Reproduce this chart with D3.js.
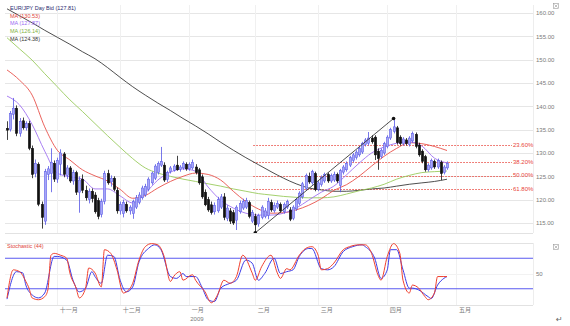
<!DOCTYPE html>
<html><head><meta charset="utf-8">
<script src="https://cdn.jsdelivr.net/npm/d3@7"></script>
<style>body{margin:0;background:#fff}svg{display:block;font-family:"Liberation Sans",Arial,sans-serif}</style>
</head><body><svg id="c" width="570" height="326"></svg>
<script>
// ---------- data ----------
const firstDay = "2008-10-10";
const lastCalendarDay = "2009-05-01";
const holidays = ["2008-12-25", "2009-01-01"];
const monthKeys = ["2008-11", "2008-12", "2009-01", "2009-02", "2009-03", "2009-04", "2009-05"];
const monthLabels = ["十一月", "十二月", "一月", "二月", "三月", "四月", "五月"];
const yearLabel = "2009";
const yearMonthKey = "2009-01";

const open = [135.3,135.0,138.3,139.6,134.2,136.9,135.4,136.3,131.0,125.6,127.6,119.0,115.4,125.4,125.6,127.8,124.4,127.6,129.8,125.2,
126.8,124.0,125.8,121.6,124.4,122.0,120.0,121.8,121.0,119.8,116.8,119.6,125.6,123.8,124.6,122.0,117.6,117.0,119.0,117.6,
117.0,118.4,119.4,120.4,121.0,122.2,123.6,124.6,125.8,127.4,127.4,124.3,126.0,126.3,127.4,126.5,126.8,127.6,126.6,126.8,
127.0,126.4,124.9,121.6,120.0,118.9,117.4,117.6,118.4,120.6,116.0,117.6,117.2,115.6,117.4,118.2,118.4,119.4,115.4,116.4,
114.8,116.2,116.4,116.6,119.4,117.6,118.4,119.0,117.4,118.4,117.8,116.0,118.0,119.2,120.6,122.4,125.0,123.6,125.6,122.2,
123.2,124.0,125.4,124.0,124.2,125.4,123.0,125.9,126.4,127.4,128.4,129.0,129.6,130.2,131.8,132.1,133.2,133.4,130.4,129.2,
130.0,131.4,133.2,134.6,135.4,133.4,132.0,132.8,131.8,132.6,134.0,131.7,130.4,129.2,126.4,126.8,128.2,127.0,128.0,125.8,126.8];
const high = [136.8,139.0,141.8,140.2,137.5,137.6,136.8,136.9,131.6,128.6,128.0,119.6,126.6,127.2,131.0,128.4,129.0,130.8,130.2,127.4,
127.2,126.4,126.2,125.0,125.4,123.0,122.4,122.4,121.6,120.4,120.2,126.2,126.4,125.2,125.0,122.6,119.6,120.0,119.6,118.8,
120.0,121.0,121.6,123.0,123.4,124.8,126.0,127.6,128.2,131.3,128.0,126.2,127.2,127.6,129.4,127.4,128.2,128.0,128.0,128.6,
127.6,126.8,125.4,122.2,120.6,119.6,119.4,120.6,121.2,121.4,118.8,118.2,117.8,118.8,119.8,120.2,120.4,119.8,117.8,117.0,
117.0,118.8,118.2,120.4,120.0,119.4,119.8,119.4,119.4,120.0,118.4,118.8,120.4,121.8,123.8,125.6,125.8,126.4,126.0,124.0,
125.2,125.8,125.8,125.6,126.0,125.8,126.6,127.4,128.2,129.4,130.0,130.6,131.4,132.4,133.2,134.5,133.8,133.8,131.0,131.0,
132.4,133.8,135.4,137.4,135.8,133.8,133.4,133.2,133.6,134.6,134.4,132.2,130.8,129.6,127.8,128.8,128.6,128.8,128.4,127.4,128.2];
const low = [132.8,134.6,137.2,133.6,133.5,135.0,134.8,130.6,124.6,124.8,118.6,113.8,114.6,124.2,121.6,123.8,123.6,125.2,124.8,124.4,
123.6,123.2,121.0,117.2,121.4,119.8,119.2,119.4,117.0,115.8,116.2,119.0,123.2,122.8,121.8,117.0,116.8,116.2,117.2,116.8,
115.9,118.0,119.0,120.0,120.6,121.8,123.2,124.2,125.4,127.0,123.8,123.8,125.6,126.0,126.2,126.0,126.4,126.2,126.2,126.4,
125.4,123.2,120.2,118.6,117.4,116.8,116.8,117.2,118.0,115.6,115.4,114.8,114.6,113.5,117.0,117.8,118.0,116.0,115.0,112.9,
114.2,115.8,116.0,115.8,117.4,117.2,118.0,117.2,117.0,118.0,115.4,115.6,117.6,118.8,120.2,122.0,123.4,123.2,121.8,121.8,
122.8,123.6,123.6,123.6,123.8,123.6,121.6,125.4,126.0,127.0,128.0,128.6,129.2,129.8,131.4,131.6,132.0,128.5,126.4,128.8,
129.6,131.0,132.8,134.2,131.8,131.6,131.6,131.6,131.4,132.2,131.0,129.2,127.8,126.0,126.0,126.4,126.6,126.6,124.2,125.4,126.4];
const close = [134.9,138.5,139.6,134.2,136.8,135.4,136.3,131.0,125.4,127.8,119.0,116.2,126.0,126.6,128.0,124.4,128.4,130.0,125.4,126.8,
124.0,125.8,121.6,124.2,122.0,120.4,121.8,120.2,117.4,116.4,119.6,125.6,123.6,124.6,122.2,117.6,119.0,119.4,117.6,118.4,
119.6,120.4,121.0,122.5,122.8,124.4,125.7,127.2,127.8,128.2,124.2,125.8,126.8,127.2,126.4,127.0,127.8,126.6,127.6,128.0,
125.8,123.6,120.6,118.9,117.8,117.2,118.8,120.0,120.6,116.2,118.2,115.4,115.0,118.4,119.2,119.6,119.8,116.4,117.2,114.6,
116.6,118.4,117.6,119.6,117.8,118.8,119.2,117.6,119.0,119.6,115.8,118.4,120.0,121.4,123.4,125.2,123.8,126.0,122.2,123.6,
124.8,125.4,124.0,125.2,125.4,124.0,126.2,127.0,127.8,129.0,129.6,130.2,131.0,132.1,132.8,133.2,132.4,129.6,128.8,130.6,
132.0,133.4,135.0,135.6,132.2,132.0,133.0,132.0,133.2,134.2,131.4,129.6,128.2,126.4,127.4,128.4,127.0,128.4,125.6,127.0,127.81];

// moving averages read every 4th bar
const maIdx = [0,4,8,12,16,20,24,28,32,36,40,44,48,52,56,60,64,68,72,76,80,84,88,92,96,100,104,108,112,116,120,124,128,132,136,140];
const maRed = [147.8,145.6,142.4,135.6,130.6,128.5,126.4,125.1,124.0,122.2,120.3,120.9,122.5,123.9,125.0,125.7,125.4,124.2,121.8,119.6,118.0,117.1,117.2,117.8,118.8,120.2,122.0,123.2,125.0,127.2,129.3,131.0,132.2,132.0,131.4,130.53];
const maPurple = [142.2,140.3,136.1,130.4,125.7,124.9,124.4,122.3,122.3,120.8,119.3,121.4,124.2,125.9,126.6,126.1,122.7,119.9,118.2,117.1,116.7,116.7,117.1,118.2,119.9,121.6,122.9,125.3,127.8,130.0,131.3,132.1,132.4,131.5,128.9,127.87];
const maGreen = [154.7,152.3,149.9,147.0,144.2,141.4,138.9,136.3,133.7,131.2,128.8,126.8,125.7,125.0,124.4,123.9,123.4,122.9,122.3,121.8,121.3,121.0,120.7,120.5,120.4,120.4,120.6,121.2,121.9,122.5,123.3,124.4,125.2,125.8,126.0,126.14];
const maBlack = [160.9,159.4,157.9,156.3,154.8,153.3,151.7,150.2,148.3,146.2,144.2,142.4,140.7,139.1,137.4,135.8,134.1,132.3,130.6,129.0,127.5,126.0,124.6,123.4,122.5,122.1,121.8,121.8,122.0,122.3,122.5,122.9,123.3,123.6,123.9,124.38];

// stochastic (bar index, value)
const stochK = [[0,10],[2,56],[4,53],[6,37],[7,26],[8,10],[10,7],[12,12],[13,23],[14,80],[15,83],[17,80],[19,75],[20,51],[22,26],[23,10],[25,26],[26,59],[28,51],[30,28],[31,89],[33,83],[35,56],[37,18],[38,20],[40,34],[42,72],[44,94],[46,99],[48,97],[50,78],[52,37],[53,45],[55,53],[56,39],[59,48],[60,39],[63,20],[65,2],[67,15],[69,39],[71,34],[73,45],[75,80],[78,51],[79,39],[81,61],[84,80],[86,51],[87,42],[89,58],[90,56],[93,80],[95,91],[97,94],[99,80],[100,56],[102,58],[104,67],[107,89],[109,94],[112,97],[114,97],[116,83],[118,48],[119,39],[121,78],[123,99],[125,83],[126,39],[128,18],[129,31],[131,26],[133,12],[134,7],[136,18],[137,45],[139,45],[140,45]];
const stochD = [[0,8],[3,53],[5,51],[6,31],[8,15],[10,10],[12,18],[15,78],[16,78],[19,72],[21,39],[23,20],[25,26],[27,53],[28,45],[30,34],[32,80],[34,78],[36,39],[38,20],[40,28],[42,69],[45,91],[47,97],[49,89],[52,45],[54,42],[56,50],[57,45],[60,45],[62,28],[64,7],[66,4],[68,26],[71,34],[73,39],[76,72],[78,67],[80,39],[82,50],[85,75],[87,50],[89,53],[91,56],[93,78],[96,91],[97,91],[100,58],[102,56],[104,61],[107,86],[110,94],[113,97],[114,94],[117,75],[119,42],[121,56],[122,89],[124,89],[126,56],[128,26],[129,26],[131,23],[134,12],[135,9],[137,31],[139,42],[140,45]];

const priceTicks = [115,120,125,130,135,140,145,150,155,160];
const stochLevels = [25, 75];
const stochTick = [50];
const fibRatios = [0.236, 0.382, 0.5, 0.618];
const fibLabels = ["23.60%", "38.20%", "50.00%", "61.80%"];
const swingLowIdx = 79, swingHighIdx = 123;
const legendTexts = ["EUR/JPY Day Bid (127.81)", "MA (130.53)", "MA (127.87)", "MA (126.14)", "MA (124.38)"];
const legendColors = ["#1f2a6e", "#e0443a", "#9b6bf2", "#7fb03e", "#333333"];
const stochTitle = "Stochastic (44)";

// ---------- build trading calendar ----------
const parse = d3.utcParse("%Y-%m-%d"), fmt = d3.utcFormat("%Y-%m-%d"), fmtM = d3.utcFormat("%Y-%m");
const days = d3.utcDays(parse(firstDay), d3.utcDay.offset(parse(lastCalendarDay), 1))
  .filter(d => d.getUTCDay() !== 0 && d.getUTCDay() !== 6 && !holidays.includes(fmt(d)));
const monthIdx = monthKeys.map(k => days.findIndex(d => fmtM(d) === k));
const yearIdx = days.findIndex(d => fmtM(d) === yearMonthKey);
const bars = close.map((c, i) => ({i, o: open[i], h: high[i], l: low[i], c}));

// ---------- layout ----------
const svg = d3.select("#c");
const L = 5, R = 533, mainTop = 5, mainBot = 233, stTop = 243, stBot = 305;
const x = d3.scaleLinear().domain([0, 140]).range([7, 447]);
const y = d3.scaleLinear().domain([115, 160]).range([223, 13]);
const ys = d3.scaleLinear().domain([0, 100]).range([304, 243]);

const defs = svg.append("defs");
defs.append("clipPath").attr("id", "cm").append("rect").attr("x", L).attr("y", mainTop).attr("width", R - L).attr("height", mainBot - mainTop);
defs.append("clipPath").attr("id", "cs").append("rect").attr("x", L).attr("y", stTop - 1).attr("width", R - L).attr("height", stBot - stTop + 2);

// grid
const g = svg.append("g");
g.selectAll(".hg").data(priceTicks).join("line").attr("x1", L).attr("x2", R)
  .attr("y1", d => Math.round(y(d)) + 0.5).attr("y2", d => Math.round(y(d)) + 0.5).attr("stroke", "#e6e6e6");
g.selectAll(".vg").data(monthIdx).join("line")
  .attr("x1", d => Math.round(x(d)) + 0.5).attr("x2", d => Math.round(x(d)) + 0.5)
  .attr("y1", mainTop).attr("y2", mainBot).attr("stroke", "#f0f0f0");
g.selectAll(".vg2").data(monthIdx).join("line")
  .attr("x1", d => Math.round(x(d)) + 0.5).attr("x2", d => Math.round(x(d)) + 0.5)
  .attr("y1", stTop).attr("y2", stBot).attr("stroke", "#f0f0f0");
[mainBot, stTop, stBot].forEach(v => g.append("line").attr("x1", L).attr("x2", R).attr("y1", v + 0.5).attr("y2", v + 0.5).attr("stroke", "#e2e2e2"));
g.append("line").attr("x1", L).attr("x2", R).attr("y1", Math.round(ys(50)) + 0.5).attr("y2", Math.round(ys(50)) + 0.5).attr("stroke", "#f2f2f2");
g.append("line").attr("x1", R + 0.5).attr("x2", R + 0.5).attr("y1", mainTop).attr("y2", mainBot).attr("stroke", "#ededed");
g.append("line").attr("x1", R + 0.5).attr("x2", R + 0.5).attr("y1", stTop).attr("y2", stBot).attr("stroke", "#ededed");

// y axis labels
const yAx = svg.append("g").attr("transform", `translate(${R + 2},0)`)
  .call(d3.axisRight(y).tickValues(priceTicks).tickFormat(d3.format(".2f")).tickSize(0).tickPadding(1));
yAx.select(".domain").remove();
yAx.selectAll("text").attr("fill", "#7a7a7a").attr("font-size", 6).attr("font-family", "Liberation Sans, Arial, sans-serif");

const sAx = svg.append("g").attr("transform", `translate(${R + 2},0)`)
  .call(d3.axisRight(ys).tickValues(stochTick).tickSize(0).tickPadding(1));
sAx.select(".domain").remove();
sAx.selectAll("text").attr("fill", "#7a7a7a").attr("font-size", 6).attr("font-family", "Liberation Sans, Arial, sans-serif");

// x axis labels
const xAx = svg.append("g").attr("transform", `translate(0,${306})`)
  .call(d3.axisBottom(x).tickValues(monthIdx).tickFormat((d, i) => monthLabels[i]).tickSize(0).tickPadding(2));
xAx.select(".domain").remove();
xAx.selectAll("text").attr("text-anchor", "start").attr("dx", 2).attr("fill", "#7a7a7a").attr("font-size", 6)
  .attr("font-family", "'Noto Sans CJK SC', sans-serif");
svg.append("text").attr("x", x(yearIdx) + 1).attr("y", 321).attr("font-size", 6).attr("fill", "#7a7a7a").text(yearLabel);

// main panel content
const main = svg.append("g").attr("clip-path", "url(#cm)");

// fibonacci
const lo = low[swingLowIdx], hi = high[swingHighIdx];
const fibs = fibRatios.map((r, k) => ({v: hi - r * (hi - lo), label: fibLabels[k]}));
main.selectAll(".fib").data(fibs).join("line")
  .attr("x1", x(swingLowIdx) - 2).attr("x2", 512)
  .attr("y1", d => Math.round(y(d.v)) + 0.5).attr("y2", d => Math.round(y(d.v)) + 0.5)
  .attr("stroke", "#e8433a").attr("stroke-width", 0.9).attr("stroke-dasharray", "1.5,1.5");
svg.selectAll(".fibt").data(fibs).join("text")
  .attr("x", 513).attr("y", d => y(d.v) + 1.5).attr("font-size", 6).attr("fill", "#e8433a").text(d => d.label);

// MA lines
const maLine = arr => d3.line().x((d, k) => x(maIdx[k])).y(d => y(d)).curve(d3.curveMonotoneX)(arr);
[[maBlack, "#3a3a3a"], [maGreen, "#9acb5e"], [maRed, "#e8504a"], [maPurple, "#a072f2"]].forEach(([arr, col]) =>
  main.append("path").attr("d", maLine(arr)).attr("fill", "none").attr("stroke", col).attr("stroke-width", 0.9));

// candles
const bw = 2.4;
const cg = main.append("g");
cg.selectAll(".wick").data(bars).join("line")
  .attr("x1", d => Math.round(x(d.i)) + 0.5).attr("x2", d => Math.round(x(d.i)) + 0.5)
  .attr("y1", d => y(d.h)).attr("y2", d => y(d.l))
  .attr("stroke", d => d.c >= d.o ? "#5656e6" : "#111").attr("stroke-width", 0.8);
cg.selectAll(".body").data(bars).join("rect")
  .attr("x", d => Math.round(x(d.i)) + 0.5 - bw / 2).attr("width", bw)
  .attr("y", d => y(Math.max(d.o, d.c))).attr("height", d => Math.max(0.8, Math.abs(y(d.o) - y(d.c))))
  .attr("fill", d => d.c >= d.o ? "#a7a7f7" : "#111")
  .attr("stroke", d => d.c >= d.o ? "#5656e6" : "#111").attr("stroke-width", 0.5);

// trend line
const tl = [[swingLowIdx, lo], [swingHighIdx, hi]];
main.append("line").attr("x1", x(tl[0][0])).attr("y1", y(tl[0][1])).attr("x2", x(tl[1][0])).attr("y2", y(tl[1][1]))
  .attr("stroke", "#222").attr("stroke-width", 0.8);
main.selectAll(".tdot").data(tl).join("circle").attr("cx", d => x(d[0])).attr("cy", d => y(d[1])).attr("r", 1.8).attr("fill", "#111");

// legend
svg.selectAll(".leg").data(legendTexts).join("text")
  .attr("x", 10).attr("y", (d, k) => 10 + k * 7.7).attr("font-size", 5.5).attr("fill", (d, k) => legendColors[k]).text(d => d);

// stochastic panel
const st = svg.append("g").attr("clip-path", "url(#cs)");
st.selectAll(".lvl").data(stochLevels).join("line").attr("x1", L).attr("x2", R)
  .attr("y1", d => ys(d)).attr("y2", d => ys(d)).attr("stroke", "#5a5af0").attr("stroke-width", 1.2);
const sLine = d3.line().x(d => x(d[0])).y(d => ys(d[1])).curve(d3.curveMonotoneX);
st.append("path").attr("d", sLine(stochD)).attr("fill", "none").attr("stroke", "#3c3ce8").attr("stroke-width", 1);
st.append("path").attr("d", sLine(stochK)).attr("fill", "none").attr("stroke", "#f0402e").attr("stroke-width", 1);
svg.append("text").attr("x", 7).attr("y", 248).attr("font-size", 5.5).attr("fill", "#e0443a").text(stochTitle);

// close boxes
[[553, 3], [553, 244]].forEach(([bx, by]) => {
  const b = svg.append("g").attr("stroke", "#999").attr("stroke-width", 0.6).attr("fill", "none");
  b.append("rect").attr("x", bx + 0.5).attr("y", by + 0.5).attr("width", 5).attr("height", 5);
  b.append("path").attr("d", `M${bx + 1.5},${by + 1.5}L${bx + 4.5},${by + 4.5}M${bx + 4.5},${by + 1.5}L${bx + 1.5},${by + 4.5}`);
});
svg.append("text").attr("x", 556).attr("y", 322).attr("font-size", 8).attr("fill", "#666").attr("font-family", "DejaVu Sans").text("↵");
</script></body></html>
